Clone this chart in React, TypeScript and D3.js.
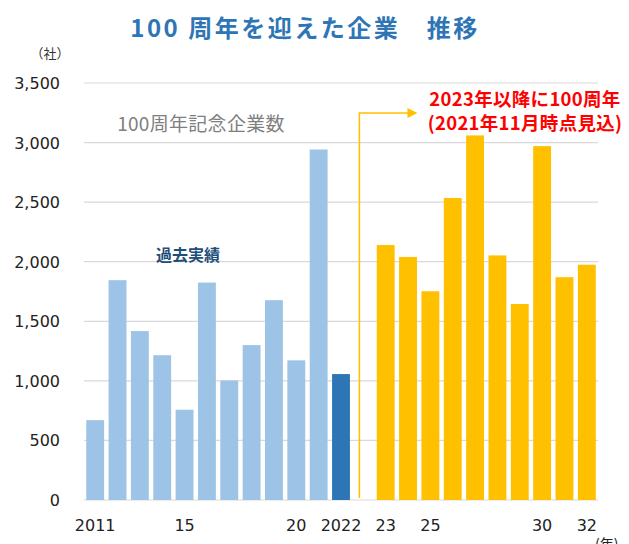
import * as d3 from "d3";

const pastYears = [2011, 2012, 2013, 2014, 2015, 2016, 2017, 2018, 2019, 2020, 2021, 2022];
const pastValues = [670, 1845, 1418, 1215, 758, 1825, 1003, 1300, 1677, 1172, 2942, 1057];
const futureYears = [2023, 2024, 2025, 2026, 2027, 2028, 2029, 2030, 2031, 2032];
const futureValues = [2140, 2040, 1752, 2535, 3060, 2053, 1645, 2970, 1870, 1975];
const yTicks = [0, 500, 1000, 1500, 2000, 2500, 3000, 3500];
const xTickLabels: [string, string][] = [
  ["2011", "2011"], ["2015", "15"], ["2020", "20"], ["2022", "2022"],
  ["2023", "23"], ["2025", "25"], ["2030", "30"], ["2032", "32"],
];

const W = 629;
const H = 544;
const margin = { top: 83, right: 31, bottom: 44, left: 84 };
const FONT = "'Noto Sans CJK JP', 'Noto Sans', sans-serif";
const NUM_FONT = "'DejaVu Sans', Verdana, sans-serif";

export default function App() {
  const slots = [...pastYears.map(String), "gap", ...futureYears.map(String)];

  const x = d3
    .scaleBand()
    .domain(slots)
    .range([margin.left, W - margin.right])
    .paddingInner(0.2)
    .paddingOuter(0.1);

  const y = d3
    .scaleLinear()
    .domain([0, 3500])
    .range([H - margin.bottom, margin.top]);

  const fmt = d3.format(",");
  const bw = x.bandwidth();
  // 区切り線は空き枠のやや左寄り
  const lineX = (x("gap") ?? 0) + bw * 0.28;
  const arrowY = 113;

  return (
    <svg
      width={W}
      height={H}
      style={{ position: "absolute", left: 0, top: 0, background: "#fff" }}
      fontFamily={FONT}
    >
      {/* タイトル */}
      <text
        x={305}
        y={37}
        textAnchor="middle"
        fontSize={24}
        fontWeight="bold"
        letterSpacing={2.5}
        fill="#2E75B6"
      >
        100 周年を迎えた企業　推移
      </text>
      <text x={50} y={58} textAnchor="middle" fontSize={13} fill="#333">
        （社）
      </text>

      {/* グリッド */}
      {yTicks.map(t => (
        <g key={t}>
          <line
            x1={margin.left}
            x2={W - margin.right}
            y1={y(t)}
            y2={y(t)}
            stroke="#d9d9d9"
            strokeWidth={1.2}
          />
          <text
            x={60}
            y={y(t) + 6}
            textAnchor="end"
            fontSize={16}
            fontFamily={NUM_FONT}
            fill="#222"
          >
            {fmt(t)}
          </text>
        </g>
      ))}

      {/* 過去実績 */}
      {pastYears.map((yr, i) => (
        <rect
          key={yr}
          x={x(String(yr))}
          y={y(pastValues[i])}
          width={bw}
          height={y(0) - y(pastValues[i])}
          fill={yr === 2022 ? "#2E75B6" : "#9DC3E6"}
        />
      ))}

      {/* 見込み */}
      {futureYears.map((yr, i) => (
        <rect
          key={yr}
          x={x(String(yr))}
          y={y(futureValues[i])}
          width={bw}
          height={y(0) - y(futureValues[i])}
          fill="#FFC000"
        />
      ))}

      {/* 矢印 */}
      <polyline
        points={`${lineX},${y(0) - 2} ${lineX},${arrowY} ${lineX + 50},${arrowY}`}
        fill="none"
        stroke="#FFC000"
        strokeWidth={1.5}
      />
      <path
        d={`M${lineX + 48},${arrowY - 5} L${lineX + 58},${arrowY} L${lineX + 48},${arrowY + 5} Z`}
        fill="#FFC000"
      />

      {/* x軸ラベル */}
      {xTickLabels.map(([key, label]) => (
        <text
          key={key}
          x={(x(key) ?? 0) + bw / 2}
          y={531}
          textAnchor="middle"
          fontSize={16}
          fontFamily={NUM_FONT}
          fill="#222"
        >
          {label}
        </text>
      ))}
      <text x={595} y={549} fontSize={14} fill="#222">
        (年)
      </text>

      {/* 注記 */}
      <text x={201} y={131} textAnchor="middle" fontSize={19} letterSpacing={0.3} fill="#7F7F7F">
        100周年記念企業数
      </text>
      <text x={188} y={261} textAnchor="middle" fontSize={16} fontWeight="bold" fill="#1F4E79">
        過去実績
      </text>
      <text x={525} y={106} textAnchor="middle" fontSize={18.5} letterSpacing={0.3} fontWeight="bold" fill="#FF0000">
        2023年以降に100周年
      </text>
      <text x={525} y={130} textAnchor="middle" fontSize={18.5} letterSpacing={0.3} fontWeight="bold" fill="#FF0000">
        (2021年11月時点見込)
      </text>
    </svg>
  );
}
